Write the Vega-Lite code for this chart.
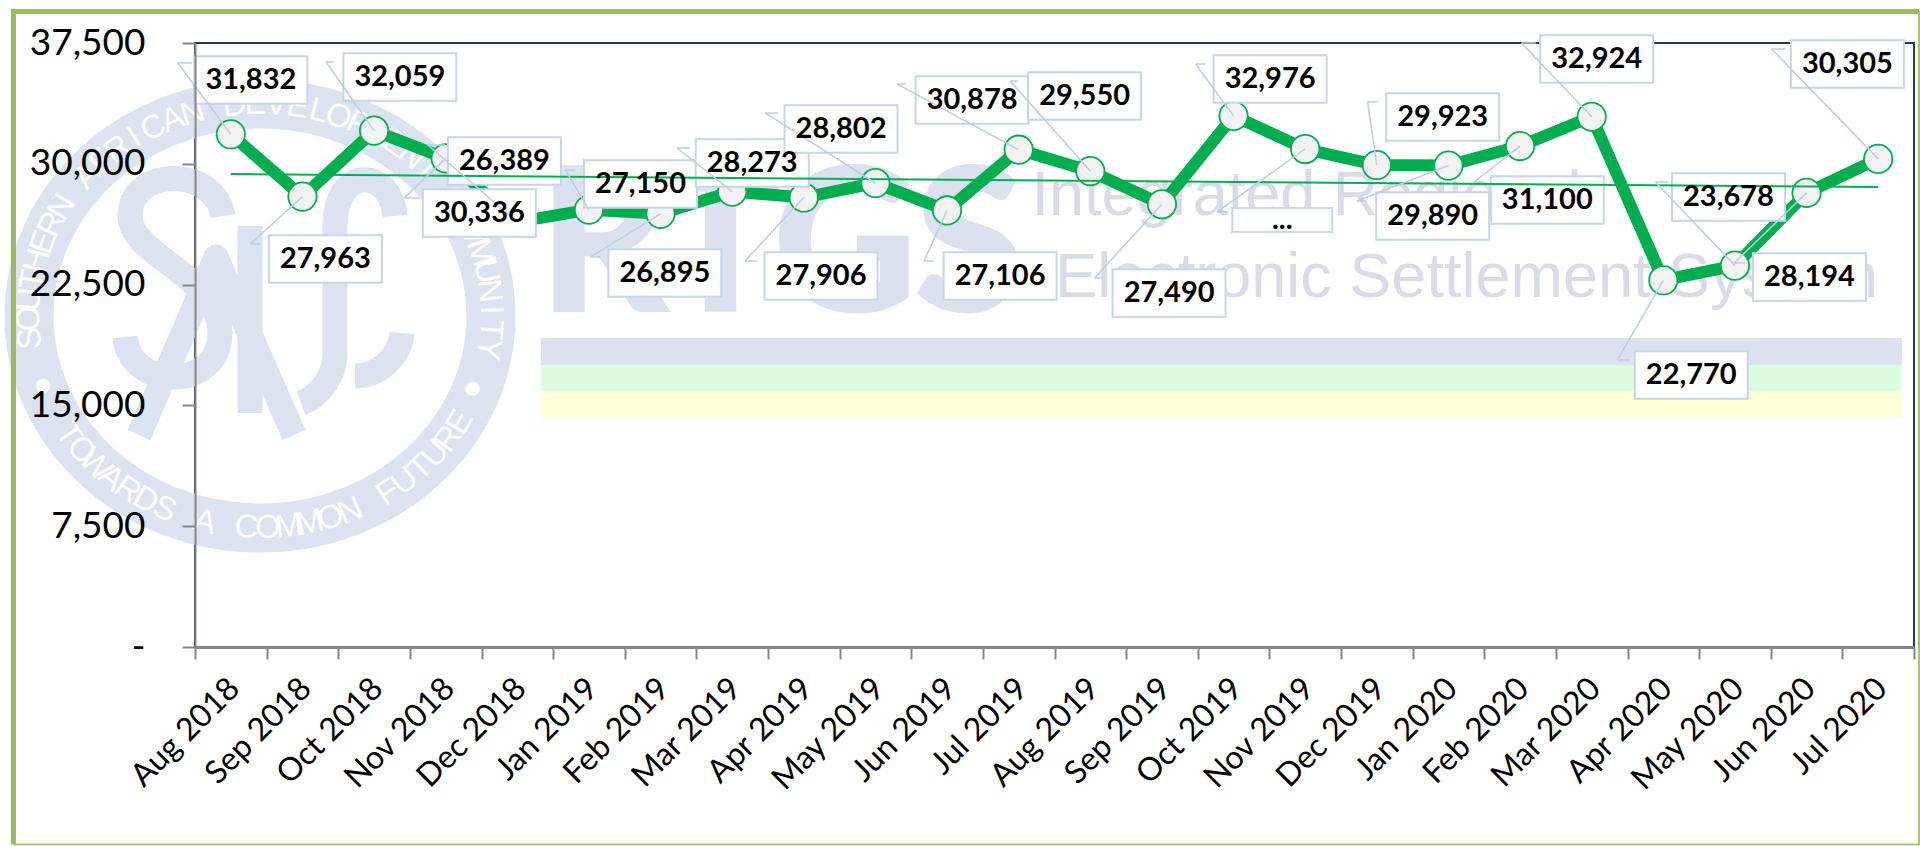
{
"$schema":"https://vega.github.io/schema/vega-lite/v6.json",
"width":1719,"height":604,
"autosize":{"type":"none"},
"padding":{"left":195,"top":43,"right":6,"bottom":199},
"background":"white",
"config":{"view":{"stroke":"#1f3864","strokeWidth":2},"font":"Lato"},
"datasets":{
"rows":[
{"month":"Aug 2018","idx":0.5,"value":31832,"label":"31,832","boxM":0.78,"boxV":35205,"leadM":-0.24,"leadV":36261,"elbowM":-0.04},
{"month":"Sep 2018","idx":1.5,"value":27963,"label":"27,963","boxM":1.82,"boxV":24091,"leadM":0.77,"leadV":25022,"elbowM":0.91},
{"month":"Oct 2018","idx":2.5,"value":32059,"label":"32,059","boxM":2.86,"boxV":35391,"leadM":1.83,"leadV":36323,"elbowM":1.94},
{"month":"Nov 2018","idx":3.5,"value":30336,"label":"30,336","boxM":3.97,"boxV":26947,"leadM":2.92,"leadV":27878,"elbowM":3.14},
{"month":"Dec 2018","idx":4.5,"value":26389,"label":"26,389","boxM":4.32,"boxV":30176,"leadM":3.25,"leadV":31169,"elbowM":3.49},
{"month":"Jan 2019","idx":5.5,"value":27150,"label":"27,150","boxM":6.22,"boxV":28748,"leadM":5.17,"leadV":29617,"elbowM":5.31},
{"month":"Feb 2019","idx":6.5,"value":26895,"label":"26,895","boxM":6.56,"boxV":23222,"leadM":5.52,"leadV":24215,"elbowM":5.66},
{"month":"Mar 2019","idx":7.5,"value":28273,"label":"28,273","boxM":7.78,"boxV":30052,"leadM":6.73,"leadV":30983,"elbowM":6.91},
{"month":"Apr 2019","idx":8.5,"value":27906,"label":"27,906","boxM":8.74,"boxV":23035,"leadM":7.68,"leadV":23967,"elbowM":7.85},
{"month":"May 2019","idx":9.5,"value":28802,"label":"28,802","boxM":9.02,"boxV":32163,"leadM":7.96,"leadV":33156,"elbowM":8.14},
{"month":"Jun 2019","idx":10.5,"value":27106,"label":"27,106","boxM":11.24,"boxV":23035,"leadM":10.18,"leadV":23967,"elbowM":10.31},
{"month":"Jul 2019","idx":11.5,"value":30878,"label":"30,878","boxM":10.85,"boxV":33963,"leadM":9.8,"leadV":34957,"elbowM":9.93},
{"month":"Aug 2019","idx":12.5,"value":29550,"label":"29,550","boxM":12.42,"boxV":34212,"leadM":11.38,"leadV":35143,"elbowM":11.49},
{"month":"Sep 2019","idx":13.5,"value":27490,"label":"27,490","boxM":13.6,"boxV":21980,"leadM":12.56,"leadV":22911,"elbowM":12.67},
{"month":"Oct 2019","idx":14.5,"value":32976,"label":"32,976","boxM":15.01,"boxV":35267,"leadM":13.97,"leadV":36198,"elbowM":14.11},
{"month":"Nov 2019","idx":15.5,"value":30920,"label":"...","boxM":15.18,"boxV":26512,"leadM":14.27,"leadV":27009,"elbowM":14.4},
{"month":"Dec 2019","idx":16.5,"value":29923,"label":"29,923","boxM":17.42,"boxV":32908,"leadM":16.37,"leadV":33839,"elbowM":16.51},
{"month":"Jan 2020","idx":17.5,"value":29890,"label":"29,890","boxM":17.28,"boxV":26761,"leadM":16.22,"leadV":27692,"elbowM":16.35},
{"month":"Feb 2020","idx":18.5,"value":31100,"label":"31,100","boxM":18.88,"boxV":27754,"leadM":17.86,"leadV":28872,"elbowM":18.0},
{"month":"Mar 2020","idx":19.5,"value":32924,"label":"32,924","boxM":19.57,"boxV":36509,"leadM":18.52,"leadV":37502,"elbowM":18.72},
{"month":"Apr 2020","idx":20.5,"value":22770,"label":"22,770","boxM":20.89,"boxV":16888,"leadM":19.86,"leadV":17820,"elbowM":20.04},
{"month":"May 2020","idx":21.5,"value":23678,"label":"23,678","boxM":21.41,"boxV":27940,"leadM":20.39,"leadV":28872,"elbowM":20.57},
{"month":"Jun 2020","idx":22.5,"value":28194,"label":"28,194","boxM":22.54,"boxV":22973,"leadM":21.49,"leadV":23843,"elbowM":21.65},
{"month":"Jul 2020","idx":23.5,"value":30305,"label":"30,305","boxM":23.07,"boxV":36198,"leadM":22.01,"leadV":37130,"elbowM":22.21}
],
"trend":[{"m":0.5,"v":29370},{"m":23.5,"v":28560}],
"bands":[
{"band":"blue","m":4.83,"m2":23.83,"v":19186,"v2":17510},
{"band":"green","m":4.83,"m2":23.83,"v":17510,"v2":15895},
{"band":"yellow","m":4.83,"m2":23.83,"v":15895,"v2":14218}
],
"frame":[
{"edge":"left","kind":"heavy","m":-2.535,"m2":-2.535,"v":39460,"v2":-12260},
{"edge":"top","kind":"heavy","m":-2.57,"m2":24.07,"v":39460,"v2":39460},
{"edge":"bottom","kind":"light","m":-2.535,"m2":24.07,"v":-12260,"v2":-12260},
{"edge":"right","kind":"light","m":24.07,"m2":24.07,"v":39460,"v2":-12260}
],
"emblem":[{"name":"SADC seal","u":0,"w":0}],
"wmtext":[
{"text":"Integrated Regional","m":11.68,"v":26823},
{"text":"Electronic Settlement System","m":12.01,"v":21730}
],
"rtgs":[{"text":"RTGS","m":4.82,"v":21000}],
"letters":[
{"c":"S","u":-0.995,"w":-0.105,"rot":-96},{"c":"O","u":-1.0,"w":-0.012,"rot":-90.7},{"c":"U","u":-0.997,"w":0.078,"rot":-85.5},{"c":"T","u":-0.985,"w":0.17,"rot":-80.2},{"c":"H","u":-0.965,"w":0.26,"rot":-74.9},{"c":"E","u":-0.938,"w":0.347,"rot":-69.7},{"c":"R","u":-0.902,"w":0.432,"rot":-64.4},{"c":"N","u":-0.858,"w":0.514,"rot":-59.1},
{"c":"A","u":-0.75,"w":0.661,"rot":-48.6},{"c":"F","u":-0.686,"w":0.728,"rot":-43.3},{"c":"R","u":-0.616,"w":0.788,"rot":-38},{"c":"I","u":-0.542,"w":0.841,"rot":-32.8},{"c":"C","u":-0.462,"w":0.887,"rot":-27.5},{"c":"A","u":-0.378,"w":0.926,"rot":-22.2},{"c":"N","u":-0.291,"w":0.957,"rot":-16.9},
{"c":"D","u":-0.111,"w":0.994,"rot":-6.4},{"c":"E","u":-0.019,"w":1.0,"rot":-1.1},{"c":"V","u":0.071,"w":0.997,"rot":4.1},{"c":"E","u":0.163,"w":0.987,"rot":9.4},{"c":"L","u":0.254,"w":0.967,"rot":14.7},{"c":"O","u":0.34,"w":0.94,"rot":19.9},{"c":"P","u":0.426,"w":0.905,"rot":25.2},{"c":"M","u":0.507,"w":0.862,"rot":30.5},{"c":"E","u":0.584,"w":0.812,"rot":35.7},{"c":"N","u":0.656,"w":0.755,"rot":41},{"c":"T","u":0.723,"w":0.691,"rot":46.3},
{"c":"C","u":0.837,"w":0.548,"rot":56.8},{"c":"O","u":0.884,"w":0.468,"rot":62.1},{"c":"M","u":0.923,"w":0.384,"rot":67.4},{"c":"M","u":0.954,"w":0.299,"rot":72.6},{"c":"U","u":0.978,"w":0.21,"rot":77.9},{"c":"N","u":0.993,"w":0.118,"rot":83.2},{"c":"I","u":1.0,"w":0.028,"rot":88.4},{"c":"T","u":0.998,"w":-0.065,"rot":93.7},{"c":"Y","u":0.988,"w":-0.156,"rot":99},
{"c":"T","u":-0.829,"w":-0.559,"rot":56},{"c":"O","u":-0.774,"w":-0.633,"rot":50.7},{"c":"W","u":-0.713,"w":-0.701,"rot":45.5},{"c":"A","u":-0.645,"w":-0.764,"rot":40.2},{"c":"R","u":-0.572,"w":-0.82,"rot":34.9},{"c":"D","u":-0.495,"w":-0.869,"rot":29.7},{"c":"S","u":-0.413,"w":-0.911,"rot":24.4},
{"c":"A","u":-0.239,"w":-0.971,"rot":13.8},
{"c":"C","u":-0.058,"w":-0.998,"rot":3.3},{"c":"O","u":0.035,"w":-0.999,"rot":-2},{"c":"M","u":0.125,"w":-0.992,"rot":-7.2},{"c":"M","u":0.216,"w":-0.976,"rot":-12.5},{"c":"O","u":0.306,"w":-0.952,"rot":-17.8},{"c":"N","u":0.391,"w":-0.921,"rot":-23},
{"c":"F","u":0.553,"w":-0.833,"rot":-33.6},{"c":"U","u":0.627,"w":-0.779,"rot":-38.8},{"c":"T","u":0.696,"w":-0.718,"rot":-44.1},{"c":"U","u":0.759,"w":-0.651,"rot":-49.4},{"c":"R","u":0.815,"w":-0.579,"rot":-54.6},{"c":"E","u":0.865,"w":-0.501,"rot":-59.9},
{"c":"●","u":0.92,"w":-0.34,"rot":0},{"c":"●","u":-0.94,"w":-0.325,"rot":0}
]
},
"resolve":{"scale":{"x":"independent","y":"independent"},"axis":{"x":"independent","y":"independent"}},
"layer":[
{"data":{"name":"emblem"},"mark":{"type":"point","filled":false,"stroke":"#dbe2f0","strokeWidth":49,"opacity":1,"size":213444,"shape":"M-1,0 A1,0.918 0 1,1 1,0 A1,0.918 0 1,1 -1,0 Z"},
 "encoding":{"x":{"field":"u","type":"quantitative","axis":null,"scale":{"domain":[-1,1],"range":[-166,296],"nice":false,"zero":false}},"y":{"field":"w","type":"quantitative","axis":null,"scale":{"domain":[-1,1],"range":[485,61],"nice":false,"zero":false}}}},
{"data":{"name":"emblem"},"mark":{"type":"point","filled":false,"stroke":"#dbe2f0","strokeWidth":25,"strokeJoin":"round","opacity":1,"size":40000,"shape":"M-0.37,-1 C-0.45,-1.5 -1.3,-1.5 -1.3,-1 C-1.3,-0.6 -0.4,-0.4 -0.4,0.17 C-0.4,0.75 -1.3,0.75 -1.35,0.21 M-1.21,1.19 L-0.44,-0.59 L0.34,1.19 M-0.1,-0.9 L-0.1,0.97 M1.35,-1 C1.3,-1.5 0.75,-1.5 0.75,-0.9 L0.75,0.37 C0.75,0.6 0.6,0.8 0.41,0.87 M0.95,0.6 C1.2,0.6 1.4,0.4 1.42,0.17"},
 "encoding":{"x":{"field":"u","type":"quantitative","axis":null,"scale":{"domain":[-1,1],"range":[-166,296],"nice":false,"zero":false}},"y":{"field":"w","type":"quantitative","axis":null,"scale":{"domain":[-1,1],"range":[485,61],"nice":false,"zero":false}}}},
{"data":{"name":"letters"},"mark":{"type":"text","font":"Liberation Sans","fontSize":33,"color":"#ffffff","baseline":"middle","align":"center"},
 "encoding":{"x":{"field":"u","type":"quantitative","axis":null,"scale":{"domain":[-1,1],"range":[-166,296],"nice":false,"zero":false}},"y":{"field":"w","type":"quantitative","axis":null,"scale":{"domain":[-1,1],"range":[485,61],"nice":false,"zero":false}},"text":{"field":"c"},"angle":{"field":"rot","type":"quantitative","scale":null}}},
{"data":{"name":"bands"},"mark":{"type":"rect"},
 "encoding":{"x":{"field":"m","type":"quantitative","axis":null,"scale":{"domain":[0,24],"nice":false,"zero":false}},"x2":{"field":"m2"},"y":{"field":"v","type":"quantitative","axis":null,"scale":{"domain":[0,37500],"nice":false}},"y2":{"field":"v2"},"color":{"field":"band","type":"nominal","legend":null,"scale":{"domain":["blue","green","yellow"],"range":["#dce1f0","#dcfde0","#fefed8"]}}}},
{"data":{"name":"rtgs"},"mark":{"type":"text","font":"Lato","fontWeight":"bold","fontSize":195,"color":"#dce1f0","stroke":"#dce1f0","strokeWidth":5,"align":"left","baseline":"alphabetic"},
 "encoding":{"x":{"field":"m","type":"quantitative","axis":null,"scale":{"domain":[0,24],"nice":false,"zero":false}},"y":{"field":"v","type":"quantitative","axis":null,"scale":{"domain":[0,37500],"nice":false}},"text":{"field":"text"}}},
{"data":{"name":"wmtext"},"mark":{"type":"text","font":"Liberation Sans","fontSize":63,"color":"#d9dce8","align":"left","baseline":"alphabetic"},
 "encoding":{"x":{"field":"m","type":"quantitative","axis":null,"scale":{"domain":[0,24],"nice":false,"zero":false}},"y":{"field":"v","type":"quantitative","axis":null,"scale":{"domain":[0,37500],"nice":false}},"text":{"field":"text"}}},
{"data":{"name":"rows"},"mark":{"type":"line","color":"#00ae4f","strokeWidth":12,"strokeJoin":"miter"},
 "encoding":{"x":{"field":"month","type":"nominal","sort":null,"scale":{"type":"band","paddingInner":0,"paddingOuter":0},
   "axis":{"title":null,"zindex":1,"labelAngle":-45,"labelAlign":"right","labelBaseline":"middle","labelFont":"Lato","labelFontSize":32,"labelColor":"#000000","labelPadding":24,"labelOffset":3,"labelOverlap":false,"labelFlush":false,"tickBand":"extent","tickSize":12,"tickWidth":2,"tickColor":"#868686","domainColor":"#868686","domainWidth":3,"grid":false}},
  "y":{"field":"value","type":"quantitative","scale":{"domain":[0,37500],"nice":false},
   "axis":{"title":null,"zindex":1,"values":[0,7500,15000,22500,30000,37500],"labelExpr":"datum.value==0?'-':format(datum.value,',')","labelFont":"Lato","labelFontSize":37,"labelColor":"#000000","labelPadding":37,"tickSize":13,"tickWidth":2,"tickColor":"#868686","domainColor":"#868686","domainWidth":2,"grid":false}}}},
{"data":{"name":"rows"},"mark":{"type":"point","filled":true,"fill":"#f2f2f2","stroke":"#00b050","strokeWidth":1.8,"opacity":1,"size":804},
 "encoding":{"x":{"field":"idx","type":"quantitative","axis":null,"scale":{"domain":[0,24],"nice":false,"zero":false}},"y":{"field":"value","type":"quantitative","axis":null,"scale":{"domain":[0,37500],"nice":false}}}},
{"data":{"name":"rows"},"transform":[{"filter":"datum.label!='...'"}],"mark":{"type":"point","filled":true,"fill":"#ffffff","stroke":"#c6d5ea","strokeWidth":2,"opacity":1,"size":12769,"shape":"M-1,-0.42 H1 V0.42 H-1 Z"},
 "encoding":{"x":{"field":"boxM","type":"quantitative","axis":null,"scale":{"domain":[0,24],"nice":false,"zero":false}},"y":{"field":"boxV","type":"quantitative","axis":null,"scale":{"domain":[0,37500],"nice":false}}}},
{"data":{"name":"rows"},"transform":[{"filter":"datum.label=='...'"}],"mark":{"type":"point","filled":true,"fill":"#ffffff","stroke":"#c6d5ea","strokeWidth":2,"opacity":1,"size":10000,"shape":"M-1,-0.24 H1 V0.24 H-1 Z"},
 "encoding":{"x":{"field":"boxM","type":"quantitative","axis":null,"scale":{"domain":[0,24],"nice":false,"zero":false}},"y":{"field":"boxV","type":"quantitative","axis":null,"scale":{"domain":[0,37500],"nice":false}}}},
{"data":{"name":"trend"},"mark":{"type":"line","color":"#00b050","strokeWidth":2},
 "encoding":{"x":{"field":"m","type":"quantitative","axis":null,"scale":{"domain":[0,24],"nice":false,"zero":false}},"y":{"field":"v","type":"quantitative","axis":null,"scale":{"domain":[0,37500],"nice":false}}}},
{"data":{"name":"rows"},"mark":{"type":"rule","color":"#bccde4","strokeWidth":1.5},
 "encoding":{"x":{"field":"idx","type":"quantitative","axis":null,"scale":{"domain":[0,24],"nice":false,"zero":false}},"x2":{"field":"leadM"},"y":{"field":"value","type":"quantitative","axis":null,"scale":{"domain":[0,37500],"nice":false}},"y2":{"field":"leadV"}}},
{"data":{"name":"rows"},"mark":{"type":"rule","color":"#bccde4","strokeWidth":1.5},
 "encoding":{"x":{"field":"leadM","type":"quantitative","axis":null,"scale":{"domain":[0,24],"nice":false,"zero":false}},"x2":{"field":"elbowM"},"y":{"field":"leadV","type":"quantitative","axis":null,"scale":{"domain":[0,37500],"nice":false}}}},
{"data":{"name":"rows"},"mark":{"type":"text","font":"Lato","fontWeight":"bold","fontSize":29,"color":"#000000","align":"center","baseline":"middle"},
 "encoding":{"x":{"field":"boxM","type":"quantitative","axis":null,"scale":{"domain":[0,24],"nice":false,"zero":false}},"y":{"field":"boxV","type":"quantitative","axis":null,"scale":{"domain":[0,37500],"nice":false}},"text":{"field":"label"}}},
{"data":{"name":"frame"},"transform":[{"filter":"datum.kind=='heavy'"}],"mark":{"type":"rule","color":"#9bbb59","strokeWidth":5},
 "encoding":{"x":{"field":"m","type":"quantitative","axis":null,"scale":{"domain":[0,24],"nice":false,"zero":false}},"x2":{"field":"m2"},"y":{"field":"v","type":"quantitative","axis":null,"scale":{"domain":[0,37500],"nice":false}},"y2":{"field":"v2"}}},
{"data":{"name":"frame"},"transform":[{"filter":"datum.kind=='light'"}],"mark":{"type":"rule","color":"#a9c46e","strokeWidth":2},
 "encoding":{"x":{"field":"m","type":"quantitative","axis":null,"scale":{"domain":[0,24],"nice":false,"zero":false}},"x2":{"field":"m2"},"y":{"field":"v","type":"quantitative","axis":null,"scale":{"domain":[0,37500],"nice":false}},"y2":{"field":"v2"}}}
]
}
